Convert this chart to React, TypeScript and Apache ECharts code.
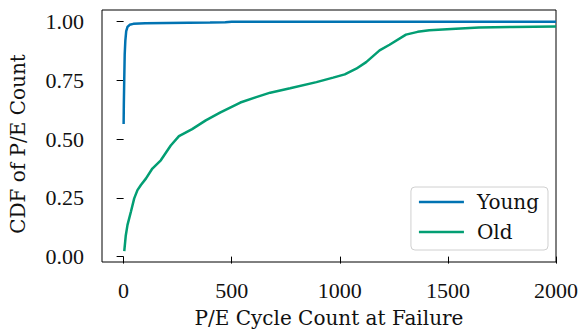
import React, { useEffect, useRef } from "react";
import * as echarts from "echarts";

const youngX = [0, 1, 3, 5, 8, 12, 18, 28, 45, 100, 200, 300, 400, 470, 500, 1000, 1500, 2000];
const youngY = [0.565, 0.65, 0.76, 0.86, 0.92, 0.96, 0.978, 0.987, 0.991, 0.994, 0.995, 0.996, 0.997, 0.998, 1.0, 1.0, 1.0, 1.0];

const oldX = [3, 10, 18, 34, 49, 64, 80, 103, 133, 172, 218, 256, 317, 380, 448, 540, 610, 678, 770, 892, 969, 1023, 1076, 1122, 1184, 1230, 1306, 1360, 1414, 1537, 1644, 1800, 2000];
const oldY = [0.023, 0.09, 0.135, 0.192, 0.248, 0.283, 0.305, 0.332, 0.375, 0.41, 0.473, 0.513, 0.543, 0.58, 0.614, 0.656, 0.678, 0.698, 0.717, 0.743, 0.762, 0.776, 0.80, 0.828, 0.878, 0.902, 0.945, 0.957, 0.964, 0.97, 0.975, 0.978, 0.98];

const xTicks = [0, 500, 1000, 1500, 2000];
const yTicks = [0, 0.25, 0.5, 0.75, 1.0];

const seriesNames = ["Young", "Old"];
const colors = ["#0173B2", "#029E73"];

const FONT = "Liberation Serif";
const NAMEFONT = "DejaVu Serif";
const TXT = "#111";

export default function App() {
  const ref = useRef<HTMLDivElement>(null);
  useEffect(() => {
    if (!ref.current) return;
    const chart = echarts.init(ref.current, null, { renderer: "svg" });
    const zip = (xs: number[], ys: number[]) => xs.map((x, i) => [x, ys[i]]);
    chart.setOption({
      animation: false,
      textStyle: { fontFamily: FONT },
      grid: {
        left: 101,
        right: 23,
        top: 10,
        bottom: 69,
        show: true,
        borderColor: "#000",
        borderWidth: 1,
        backgroundColor: "transparent",
      },
      legend: {
        orient: "vertical",
        right: 33,
        top: 187,
        icon: "rect",
        itemWidth: 45,
        itemHeight: 2.5,
        itemGap: 10,
        padding: [5, 9, 8, 8],
        borderColor: "#d0d0d0",
        borderWidth: 1,
        borderRadius: 4,
        backgroundColor: "#fff",
        textStyle: { fontFamily: NAMEFONT, fontSize: 20, color: TXT, padding: [0, 0, 0, 8] },
        data: seriesNames,
      },
      xAxis: {
        type: "value",
        min: -100,
        max: 2000,
        name: "P/E Cycle Count at Failure",
        nameLocation: "middle",
        nameGap: 46,
        nameTextStyle: { fontFamily: NAMEFONT, fontSize: 20, color: TXT },
        axisLine: { show: false },
        axisTick: { show: true, inside: false, length: 7, lineStyle: { color: "#000", width: 1 }, customValues: xTicks },
        axisLabel: { fontFamily: FONT, fontSize: 22, color: TXT, margin: 17, customValues: xTicks, formatter: (v: number) => String(v) },
        splitLine: { show: false },
      },
      yAxis: {
        type: "value",
        min: -0.023,
        max: 1.05,
        name: "CDF of P/E Count",
        nameLocation: "middle",
        nameGap: 74,
        nameTextStyle: { fontFamily: NAMEFONT, fontSize: 20, color: TXT, padding: [0, 16, 0, 0] },
        axisLine: { show: false },
        axisTick: { show: true, inside: false, length: 7, lineStyle: { color: "#000", width: 1 }, customValues: yTicks },
        axisLabel: { fontFamily: FONT, fontSize: 22, color: TXT, margin: 18, customValues: yTicks, formatter: (v: number) => v.toFixed(2) },
        splitLine: { show: false },
      },
      series: [
        {
          name: seriesNames[0],
          type: "line",
          data: zip(youngX, youngY),
          showSymbol: false,
          lineStyle: { color: colors[0], width: 2.5 },
          itemStyle: { color: colors[0] },
          clip: true,
        },
        {
          name: seriesNames[1],
          type: "line",
          data: zip(oldX, oldY),
          showSymbol: false,
          lineStyle: { color: colors[1], width: 2.5 },
          itemStyle: { color: colors[1] },
          clip: true,
        },
      ],
    });
    return () => chart.dispose();
  }, []);
  return <div ref={ref} style={{ width: 581, height: 333, position: "absolute", left: 0, top: 0 }} />;
}
